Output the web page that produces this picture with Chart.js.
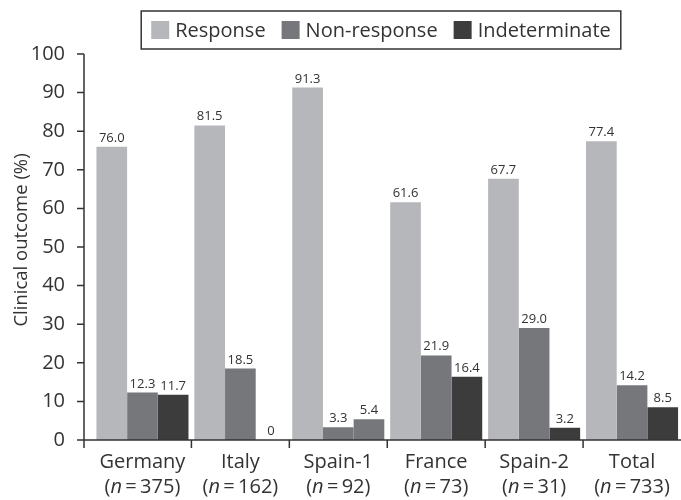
<!DOCTYPE html>
<html lang="en">
<head>
  <meta charset="UTF-8" />
  <title>Clinical outcome by country</title>
  <script src="https://cdn.jsdelivr.net/npm/chart.js"></script>
  <style>
    html, body { margin: 0; padding: 0; background: #fff; }
    #wrap { width: 681px; height: 500px; }
  </style>
</head>
<body>
  <div id="wrap"><canvas id="outcomeChart" width="681" height="500"></canvas></div>

  <script>
    // data
    const categories = ['Germany', 'Italy', 'Spain-1', 'France', 'Spain-2', 'Total'];
    const sampleSizes = [375, 162, 92, 73, 31, 733];
    const response = [76.0, 81.5, 91.3, 61.6, 67.7, 77.4];
    const nonResponse = [12.3, 18.5, 3.3, 21.9, 29.0, 14.2];
    const indeterminate = [11.7, 0, 5.4, 16.4, 3.2, 8.5];
    const yTicks = [0, 10, 20, 30, 40, 50, 60, 70, 80, 90, 100];

    const FONT = "'Open Sans', 'DejaVu Sans', sans-serif";
    const INK = '#333333';
    const colors = {
      response: '#b6b7bb',
      nonResponse: '#76777b',
      indeterminate: '#3c3c3c'
    };
    // the Spain-1 indeterminate bar is printed in the mid grey
    const indetColors = categories.map((c, i) => i === 2 ? colors.nonResponse : colors.indeterminate);

    const AXIS_X = 84;   // where the value axis line sits, a little left of the first group

    // axis lines, tick marks and the rotated axis title
    const axes = {
      id: 'axes',
      afterDatasetsDraw(chart) {
        const ctx = chart.ctx;
        const x = chart.scales.x, y = chart.scales.y;
        const base = y.getPixelForValue(0);
        ctx.save();
        ctx.strokeStyle = INK;
        ctx.lineWidth = 1.5;
        ctx.beginPath();
        ctx.moveTo(AXIS_X, y.getPixelForValue(100));
        ctx.lineTo(AXIS_X, base + 8);
        ctx.moveTo(AXIS_X, base);
        ctx.lineTo(chart.width, base);
        yTicks.forEach(v => {
          const py = y.getPixelForValue(v);
          ctx.moveTo(AXIS_X - 7, py);
          ctx.lineTo(AXIS_X, py);
        });
        for (let i = 0; i < categories.length - 1; i++) {
          const px = (x.getPixelForValue(i) + x.getPixelForValue(i + 1)) / 2;
          ctx.moveTo(px, base);
          ctx.lineTo(px, base + 8);
        }
        ctx.stroke();

        ctx.translate(22, 240);
        ctx.rotate(-Math.PI / 2);
        ctx.fillStyle = INK;
        ctx.font = '18.5px ' + FONT;
        ctx.textAlign = 'center';
        ctx.textBaseline = 'middle';
        ctx.fillText('Clinical outcome (%)', 0, 0);
        ctx.restore();
      }
    };

    // value labels above each bar
    const barValues = {
      id: 'barValues',
      afterDatasetsDraw(chart) {
        const ctx = chart.ctx;
        ctx.save();
        ctx.font = '13px ' + FONT;
        ctx.fillStyle = INK;
        ctx.textAlign = 'center';
        ctx.textBaseline = 'alphabetic';
        chart.data.datasets.forEach((ds, di) => {
          chart.getDatasetMeta(di).data.forEach((bar, i) => {
            const v = ds.data[i];
            const txt = v === 0 ? '0' : v.toFixed(1);
            ctx.fillText(txt, bar.x, bar.y - 5);
          });
        });
        ctx.restore();
      }
    };

    // two-line category labels with italic n
    const categoryLabels = {
      id: 'categoryLabels',
      afterDraw(chart) {
        const ctx = chart.ctx;
        const x = chart.scales.x;
        const base = chart.chartArea.bottom;
        ctx.save();
        ctx.fillStyle = INK;
        ctx.textBaseline = 'alphabetic';
        categories.forEach((name, i) => {
          const cx = x.getPixelForValue(i);
          ctx.font = '20px ' + FONT;
          ctx.textAlign = 'center';
          ctx.fillText(name, cx, base + 28);

          const parts = [
            { t: '(', f: '20px ' + FONT },
            { t: 'n', f: 'italic 20px ' + FONT },
            { t: '\u2009=\u2009' + sampleSizes[i] + ')', f: '20px ' + FONT }
          ];
          let w = 0;
          parts.forEach(p => { ctx.font = p.f; p.w = ctx.measureText(p.t).width; w += p.w; });
          let px = cx - w / 2;
          ctx.textAlign = 'left';
          parts.forEach(p => { ctx.font = p.f; ctx.fillText(p.t, px, base + 53); px += p.w; });
        });
        ctx.restore();
      }
    };

    // legend in a framed box above the plot
    const boxedLegend = {
      id: 'boxedLegend',
      afterDraw(chart) {
        const ctx = chart.ctx;
        const sq = 18, gap = 6, itemGap = 16, pad = 10;
        const top = 11, h = 38, centre = 381;
        ctx.save();
        ctx.font = '20px ' + FONT;
        const items = chart.data.datasets.map(ds => ({
          label: ds.label,
          color: ds.legendColor,
          w: ctx.measureText(ds.label).width
        }));
        const total = pad * 2 + items.reduce((s, it) => s + sq + gap + it.w, 0) + itemGap * (items.length - 1);
        const left = centre - total / 2;
        ctx.strokeStyle = INK;
        ctx.lineWidth = 1.5;
        ctx.strokeRect(left, top, total, h);

        let px = left + pad;
        const cy = top + h / 2;
        items.forEach(it => {
          ctx.fillStyle = it.color;
          ctx.fillRect(px, cy - sq / 2, sq, sq);
          px += sq + gap;
          ctx.fillStyle = INK;
          ctx.textAlign = 'left';
          ctx.textBaseline = 'middle';
          ctx.fillText(it.label, px, cy + 1);
          px += it.w + itemGap;
        });
        ctx.restore();
      }
    };

    new Chart(document.getElementById('outcomeChart').getContext('2d'), {
      type: 'bar',
      data: {
        labels: categories,
        datasets: [
          { label: 'Response', data: response, backgroundColor: colors.response, legendColor: colors.response },
          { label: 'Non-response', data: nonResponse, backgroundColor: colors.nonResponse, legendColor: colors.nonResponse },
          { label: 'Indeterminate', data: indeterminate, backgroundColor: indetColors, legendColor: colors.indeterminate }
        ]
      },
      options: {
        responsive: false,
        animation: false,
        layout: { padding: { left: 0, top: 54, right: -3.5, bottom: 0 } },
        datasets: { bar: { categoryPercentage: 0.94, barPercentage: 1.0 } },
        plugins: { legend: { display: false }, tooltip: { enabled: false } },
        scales: {
          x: {
            grid: { display: false },
            border: { display: false },
            ticks: { display: false },
            afterFit(scale) { scale.height = 60; }
          },
          y: {
            min: 0,
            max: 100,
            afterBuildTicks(scale) { scale.ticks = yTicks.map(v => ({ value: v })); },
            grid: { display: false },
            border: { display: false },
            ticks: { padding: 20.5, color: INK, font: { family: FONT, size: 20 } },
            afterFit(scale) { scale.width = 93.5; }
          }
        }
      },
      plugins: [axes, barValues, categoryLabels, boxedLegend]
    });
  </script>
</body>
</html>
